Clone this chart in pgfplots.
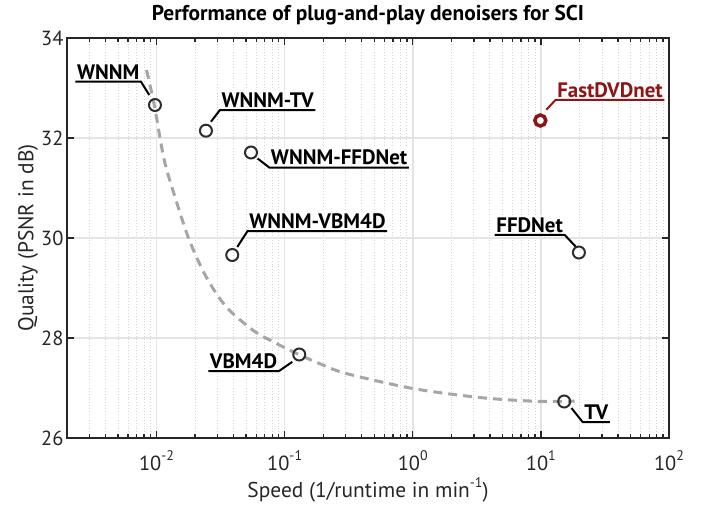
\documentclass[border=0pt]{standalone}
\usepackage{fontspec}
\setmainfont{PT Sans}
\newfontfamily\lblfont{PT Sans}
\usepackage{pgfplots}
\pgfplotsset{compat=1.18}
\definecolor{spine}{RGB}{38,38,38}
\definecolor{mk}{RGB}{45,45,45}
\definecolor{curvec}{RGB}{166,166,166}
\definecolor{dred}{RGB}{140,22,22}
\definecolor{gridc}{RGB}{228,228,228}
\definecolor{mgridc}{RGB}{212,212,212}
\newcommand{\tsup}[1]{\raisebox{0.5em}{\fontsize{14}{14}\selectfont #1}}
\tikzset{
  lbl/.style={font=\lblfont\bfseries\fontsize{21}{24}\selectfont, text=black, text depth=0pt,
    inner xsep=1.5bp, inner ysep=2.5bp, fill=white, fill opacity=0.7, text opacity=1},
  leader/.style={line width=2bp, black, line join=miter},
}
\begin{document}
\begin{tikzpicture}
\begin{axis}[
  at={(0,0)}, anchor=south west,
  scale only axis, width=602bp, height=400bp,
  xmode=log, xmin=0.002, xmax=100, ymin=26, ymax=34,
  xtick={0.01,0.1,1,10,100},
  xticklabels={10\tsup{-2},10\tsup{-1},10\tsup{0},10\tsup{1},10\tsup{2}},
  minor xtick={0.003,0.004,0.005,0.006,0.007,0.008,0.009,
    0.02,0.03,0.04,0.05,0.06,0.07,0.08,0.09,
    0.2,0.3,0.4,0.5,0.6,0.7,0.8,0.9,
    2,3,4,5,6,7,8,9,20,30,40,50,60,70,80,90},
  ytick={26,28,30,32,34},
  /pgf/number format/assume math mode=true,
  xmajorgrids, ymajorgrids, xminorgrids,
  major grid style={gridc, line width=1.6bp},
  minor grid style={mgridc, line width=0.9bp, dotted},
  tick align=inside, major tick length=7bp, minor tick length=4bp,
  every tick/.style={spine, line width=1.3bp},
  axis line style={spine, line width=2.2bp},
  ticklabel style={font=\fontsize{20.5}{24}\selectfont, text=spine},
  xticklabel style={anchor=base, yshift=-32.5bp},
  yticklabel style={anchor=east, xshift=0bp},
  title={Performance of plug-and-play denoisers for SCI},
  title style={at={(axis description cs:0.5,1.03)}, anchor=base, yshift=0pt,
    font=\bfseries\fontsize{21.5}{26}\selectfont},
  xlabel={Speed (1/runtime in min\tsup{-1})},
  xlabel style={at={(axis description cs:0.5,-0.15)}, anchor=base,
    font=\fontsize{21.5}{25}\selectfont, text=spine},
  ylabel={Quality (PSNR in dB)},
  ylabel style={at={(axis description cs:-0.056,0.5)}, anchor=base, rotate=0,
    font=\fontsize{21.5}{25}\selectfont, text=spine},
]
\addplot[curvec, line width=3bp, dash pattern=on 9bp off 6bp, smooth] coordinates {
  (0.00835,33.36) (0.0096,32.66) (0.01148,31.56) (0.01418,30.76) (0.0180,29.96)
  (0.0243,29.23) (0.0348,28.63) (0.0562,28.16) (0.0805,27.93) (0.1265,27.68)
  (0.1866,27.49) (0.302,27.29) (1.0,26.99) (3.32,26.81) (8.16,26.74)
  (14.9,26.73) (18.3,26.74)
};
\addplot[only marks, mark=o, mark size=6bp, mk, line width=2bp] coordinates {
  (0.00972,32.66) (0.0243,32.146) (0.0546,31.71) (0.039,29.66)
  (0.130,27.67) (15.2,26.73) (19.8,29.71)
};
\addplot[only marks, mark=*, mark size=5.5bp, dred, fill=white, line width=3.5bp] coordinates {
  (9.9,32.35)
};
% WNNM
\node[lbl, anchor=south east] (a) at ([xshift=-14bp,yshift=23.3bp]axis cs:0.00972,32.66) {WNNM};
\draw[leader] ([xshift=-5.7bp,yshift=10bp]axis cs:0.00972,32.66) -- (a.south east) -- (a.south west);
% WNNM-TV
\node[lbl, anchor=south west] (b) at ([xshift=14bp,yshift=20.7bp]axis cs:0.0243,32.146) {WNNM-TV};
\draw[leader] ([xshift=5bp,yshift=9bp]axis cs:0.0243,32.146) -- (b.south west) -- (b.south east);
% WNNM-FFDNet
\node[lbl, anchor=south west] (c) at ([xshift=18.3bp,yshift=-15bp]axis cs:0.0546,31.71) {WNNM-FFDNet};
\draw[leader] ([xshift=6.6bp,yshift=-6bp]axis cs:0.0546,31.71) -- (c.south west) -- (c.south east);
% WNNM-VBM4D
\node[lbl, anchor=south west] (d) at ([xshift=15.3bp,yshift=24bp]axis cs:0.039,29.66) {WNNM-VBM4D};
\draw[leader] ([xshift=5bp,yshift=8bp]axis cs:0.039,29.66) -- (d.south west) -- (d.south east);
% VBM4D
\node[lbl, anchor=south east] (e) at ([xshift=-20.5bp,yshift=-16.7bp]axis cs:0.130,27.67) {VBM4D};
\draw[leader] ([xshift=-7bp,yshift=-7.4bp]axis cs:0.130,27.67) -- (e.south east) -- (e.south west);
% TV
\node[lbl, anchor=south west] (f) at ([xshift=18.5bp,yshift=-20.6bp]axis cs:15.2,26.73) {TV};
\draw[leader] ([xshift=7.3bp,yshift=-6.6bp]axis cs:15.2,26.73) -- (f.south west) -- (f.south east);
% FFDNet
\node[lbl, anchor=south east] (g) at ([xshift=-14.3bp,yshift=17.7bp]axis cs:19.8,29.71) {FFDNet};
\draw[leader] ([xshift=-3.3bp,yshift=6bp]axis cs:19.8,29.71) -- (g.south east) -- (g.south west);
% FastDVDnet
\node[lbl, anchor=south west, text=dred] (h) at ([xshift=15.3bp,yshift=20.7bp]axis cs:9.9,32.35) {FastDVDnet};
\draw[leader, dred] ([xshift=6bp,yshift=10.7bp]axis cs:9.9,32.35) -- (h.south west) -- (h.south east);
\end{axis}
\pgfresetboundingbox
\path[use as bounding box] (-67bp,-70bp) rectangle (643bp,438bp);
\end{tikzpicture}
\end{document}
